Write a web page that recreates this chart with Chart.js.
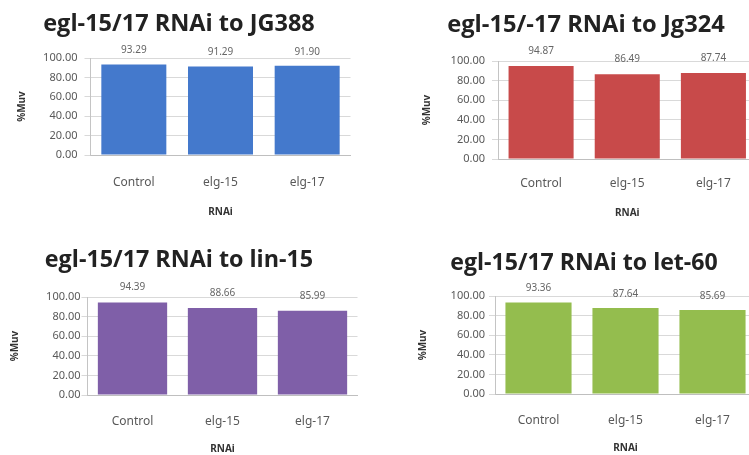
<!DOCTYPE html>
<html><head><meta charset="utf-8">
<script src="https://cdn.jsdelivr.net/npm/chart.js@4.4.1/dist/chart.umd.min.js"></script>
<style>
html,body{margin:0;padding:0;background:#fff;overflow:hidden;width:749px;height:455px;position:relative;}
canvas{position:absolute;}
</style></head><body>
<canvas id="c1" width="375" height="228" style="left:0;top:0"></canvas>
<canvas id="c2" width="390" height="228" style="left:375px;top:0"></canvas>
<canvas id="c3" width="375" height="227" style="left:0;top:228px"></canvas>
<canvas id="c4" width="390" height="227" style="left:375px;top:228px"></canvas>
<script>
// ---- data ----
const categories = ['Control', 'elg-15', 'elg-17'];
const titleJG388 = 'egl-15/17 RNAi to JG388';
const valuesJG388 = [93.29, 91.29, 91.90];
const titleJg324 = 'egl-15/-17 RNAi to Jg324';
const valuesJg324 = [94.87, 86.49, 87.74];
const titleLin15 = 'egl-15/17 RNAi to lin-15';
const valuesLin15 = [94.39, 88.66, 85.99];
const titleLet60 = 'egl-15/17 RNAi to let-60';
const valuesLet60 = [93.36, 87.64, 85.69];
const yAxisTitle = '%Muv';
const xAxisTitle = 'RNAi';
const yMin = 0, yMax = 100, yStep = 20;

// ---- styles / layout ----
Chart.defaults.font.family = '"Noto Sans", "DejaVu Sans", sans-serif';
const panels = [
  {id:'c1', title:titleJG388, values:valuesJG388, color:'#4479cc', W:375, H:228,
   areaL:90.5, areaR:350.5, areaT:58, areaB:155, titleCx:179, titleBase:31, titleW:272,
   yTitleX:22, tickGap:13, catY:27, xTitleY:212, barPct:0.75, lblOff:14},
  {id:'c2', title:titleJg324, values:valuesJg324, color:'#c84a4a', W:390, H:228,
   areaL:123, areaR:381.5, areaT:61, areaB:159, titleCx:211, titleBase:32, titleW:278,
   yTitleX:52, tickGap:13, catY:24, xTitleY:213, barPct:0.755, lblOff:15},
  {id:'c3', title:titleLin15, values:valuesLin15, color:'#7f5fa8', W:375, H:227,
   areaL:87.5, areaR:357.5, areaT:69, areaB:167, titleCx:179, titleBase:39, titleW:268,
   yTitleX:15, tickGap:7, catY:26, xTitleY:222, barPct:0.77, lblOff:15},
  {id:'c4', title:titleLet60, values:valuesLet60, color:'#94bd4e', W:390, H:227,
   areaL:120, areaR:381, areaT:68, areaB:166, titleCx:209, titleBase:42, titleW:268,
   yTitleX:48, tickGap:10, catY:26, xTitleY:220, barPct:0.76, lblOff:14}
];

const valueLabels = {
  id: 'valueLabels',
  afterDatasetsDraw(chart, args, opts) {
    const ctx = chart.ctx;
    const meta = chart.getDatasetMeta(0);
    const data = chart.data.datasets[0].data;
    ctx.save();
    ctx.font = '10px "Noto Sans", sans-serif';
    ctx.fillStyle = '#666';
    ctx.textAlign = 'center';
    ctx.textBaseline = 'middle';
    meta.data.forEach((bar, i) => {
      ctx.fillText(data[i].toFixed(2), bar.x, bar.y - opts.offset);
    });
    ctx.restore();
  }
};

const panelTitle = {
  id: 'panelTitle',
  afterDraw(chart, args, opts) {
    const ctx = chart.ctx;
    ctx.save();
    const fam = '"Open Sans", "Noto Sans", sans-serif';
    ctx.font = 'bold 21px ' + fam;
    const w21 = ctx.measureText(opts.text).width;
    const size = Math.max(19, Math.min(24, 21 * opts.width / w21));
    ctx.font = 'bold ' + size.toFixed(1) + 'px ' + fam;
    ctx.fillStyle = '#222';
    ctx.textAlign = 'center';
    ctx.textBaseline = 'alphabetic';
    ctx.fillText(opts.text, opts.x, opts.y);
    ctx.restore();
  }
};

panels.forEach(p => {
  const padR = p.W - p.areaR;
  const xH = p.H - p.areaB;
  const tickLen = 6;
  new Chart(document.getElementById(p.id), {
    type: 'bar',
    data: {
      labels: categories,
      datasets: [{
        data: p.values,
        backgroundColor: p.color,
        borderWidth: 0,
        categoryPercentage: 1,
        barPercentage: p.barPct
      }]
    },
    plugins: [valueLabels, panelTitle],
    options: {
      responsive: false,
      animation: false,
      devicePixelRatio: 1,
      layout: {padding: {left: 0, right: padR, top: p.areaT, bottom: 0}},
      plugins: {
        legend: {display: false},
        tooltip: {enabled: false},
        title: {display: false},
        valueLabels: {offset: p.lblOff},
        panelTitle: {text: p.title, x: p.titleCx, y: p.titleBase, width: p.titleW}
      },
      scales: {
        x: {
          grid: {display: false, drawTicks: false},
          border: {display: true, color: '#bfbfbf'},
          ticks: {padding: p.catY - 7, color: '#595959', font: {size: 12}},
          title: {
            display: true, text: xAxisTitle, color: '#333',
            font: {size: 10, weight: 'bold', lineHeight: 1.2},
            padding: {top: 0, bottom: Math.max(0, p.H - p.xTitleY - 6)}
          },
          afterFit(s) { s.height = xH; }
        },
        y: {
          min: yMin, max: yMax,
          ticks: {stepSize: yStep, callback: v => Number(v).toFixed(2),
                  padding: p.tickGap - tickLen, color: '#595959', font: {size: 11}},
          grid: {color: '#d9d9d9', tickLength: tickLen, drawTicks: true},
          border: {display: true, color: '#c4c4c4'},
          title: {
            display: true, text: yAxisTitle, color: '#333',
            font: {size: 10, weight: 'bold', lineHeight: 1.2},
            padding: {top: p.yTitleX - 6, bottom: 0}
          },
          afterFit(s) { s.width = p.areaL; }
        }
      }
    }
  });
});
</script>
</body></html>
